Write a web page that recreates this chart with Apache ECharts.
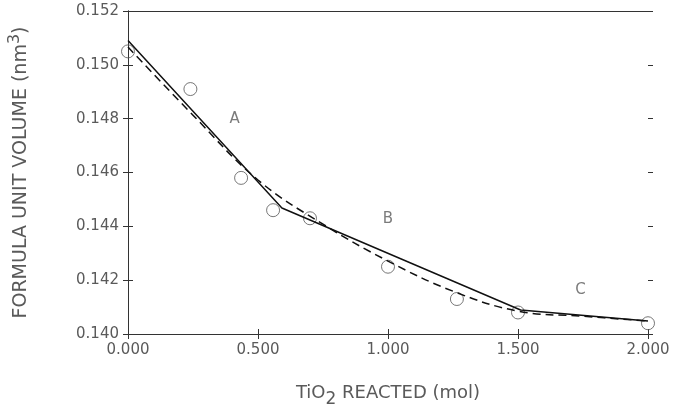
<!DOCTYPE html>
<html>
<head>
<meta charset="utf-8">
<script src="https://cdn.jsdelivr.net/npm/echarts@6/dist/echarts.min.js"></script>
<style>
  html, body { margin: 0; padding: 0; background: #fff; }
  #chart { width: 689px; height: 407px; }
</style>
</head>
<body>
<div id="chart"></div>
<script>
// measured points (open circles)
const pointX = [0.000, 0.24, 0.435, 0.558, 0.70, 1.000, 1.265, 1.500, 2.000]
const pointY = [0.1505, 0.1491, 0.1458, 0.1446, 0.1443, 0.1425, 0.1413, 0.1408, 0.1404]
// solid line: three linear regions A, B, C
const solidX = [0.000, 0.592, 1.510, 2.000]
const solidY = [0.1509, 0.14468, 0.14089, 0.14048]
// dashed fitted curve
const dashX = [0.000, 0.25, 0.50, 0.75, 1.00, 1.25, 1.50, 1.75, 2.00]
const dashY = [0.15066, 0.14813, 0.14572, 0.14408, 0.14271, 0.14159, 0.14085, 0.14066, 0.14048]
// region labels
const regionNames = ['A', 'B', 'C']
const regionX = [0.41, 1.00, 1.74]
const regionY = [0.1480, 0.14427, 0.14163]

const zip = (xs, ys) => xs.map((x, i) => [x, ys[i]])

const myChart = echarts.init(document.getElementById('chart'))
const font = 'DejaVu Sans'
const axisColor = '#333'
const textColor = '#5a5a5a'

const xBase = { type: 'value', min: 0, max: 2, interval: 0.5, splitLine: { show: false } }
const yBase = { type: 'value', min: 0.140, max: 0.152, interval: 0.002, splitLine: { show: false } }

myChart.setOption({
  animation: false,
  grid: { left: 128, right: 41, top: 11, bottom: 73, outerBoundsMode: 'none' },
  xAxis: [
    {
      ...xBase,
      position: 'bottom',
      axisLine: { lineStyle: { color: axisColor } },
      axisTick: { inside: false, length: 5, lineStyle: { color: axisColor } },
      axisLabel: {
        color: textColor, fontFamily: font, fontSize: 15, margin: 9,
        formatter: v => v.toFixed(3)
      },
      name: '{a|TiO}{sub|2}{a| REACTED (mol)}',
      nameLocation: 'middle',
      nameGap: 45,
      nameTextStyle: {
        rich: {
          a: { color: textColor, fontFamily: font, fontSize: 18 },
          sub: { color: textColor, fontFamily: font, fontSize: 17, padding: [12, 0, 0, 0] }
        }
      }
    },
    {
      ...xBase,
      position: 'bottom',
      axisLine: { show: false },
      axisTick: { inside: true, length: 5, lineStyle: { color: axisColor } },
      axisLabel: { show: false }
    },
    {
      ...xBase,
      position: 'top',
      axisLine: { lineStyle: { color: axisColor } },
      axisTick: { show: false },
      axisLabel: { show: false }
    }
  ],
  yAxis: [
    {
      ...yBase,
      position: 'left',
      axisLine: { show: true, lineStyle: { color: axisColor } },
      axisTick: { show: true, inside: false, length: 5, lineStyle: { color: axisColor } },
      axisLabel: {
        color: textColor, fontFamily: font, fontSize: 15, margin: 9,
        formatter: v => v.toFixed(3)
      },
      name: '{a|FORMULA UNIT VOLUME (nm}{sup|3}{a|)}',
      nameLocation: 'middle',
      nameGap: 93,
      nameTextStyle: {
        rich: {
          a: { color: textColor, fontFamily: font, fontSize: 19 },
          sup: { color: textColor, fontFamily: font, fontSize: 16, padding: [0, 0, 12, 0] }
        }
      }
    },
    {
      ...yBase,
      position: 'left',
      axisLine: { show: false },
      axisTick: { show: true, inside: true, length: 5, lineStyle: { color: axisColor } },
      axisLabel: { show: false }
    },
    {
      ...yBase,
      position: 'right',
      axisLine: { show: true, lineStyle: { color: axisColor } },
      axisTick: { show: true, inside: true, length: 5, lineStyle: { color: axisColor } },
      axisLabel: { show: false }
    },
    {
      ...yBase,
      position: 'right',
      axisLine: { show: false },
      axisTick: { show: true, inside: false, length: 5, lineStyle: { color: axisColor } },
      axisLabel: { show: false }
    }
  ],
  series: [
    {
      name: 'fit',
      type: 'line',
      data: zip(dashX, dashY),
      smooth: 0.4,
      symbol: 'none',
      lineStyle: { color: '#111', width: 1.5, type: [8, 5] }
    },
    {
      name: 'regions',
      type: 'line',
      data: zip(solidX, solidY),
      symbol: 'none',
      lineStyle: { color: '#111', width: 1.5 }
    },
    {
      name: 'measured',
      type: 'scatter',
      data: zip(pointX, pointY),
      symbol: 'circle',
      symbolSize: 13,
      itemStyle: { color: 'rgba(255,255,255,0)', borderColor: '#555', borderWidth: 1 }
    },
    {
      name: 'labels',
      type: 'scatter',
      data: regionX.map((x, i) => ({ value: [x, regionY[i]], name: regionNames[i] })),
      symbolSize: 0,
      label: {
        show: true, position: 'inside', formatter: p => p.name,
        color: textColor, fontFamily: font, fontSize: 15
      }
    }
  ]
})
</script>
</body>
</html>
